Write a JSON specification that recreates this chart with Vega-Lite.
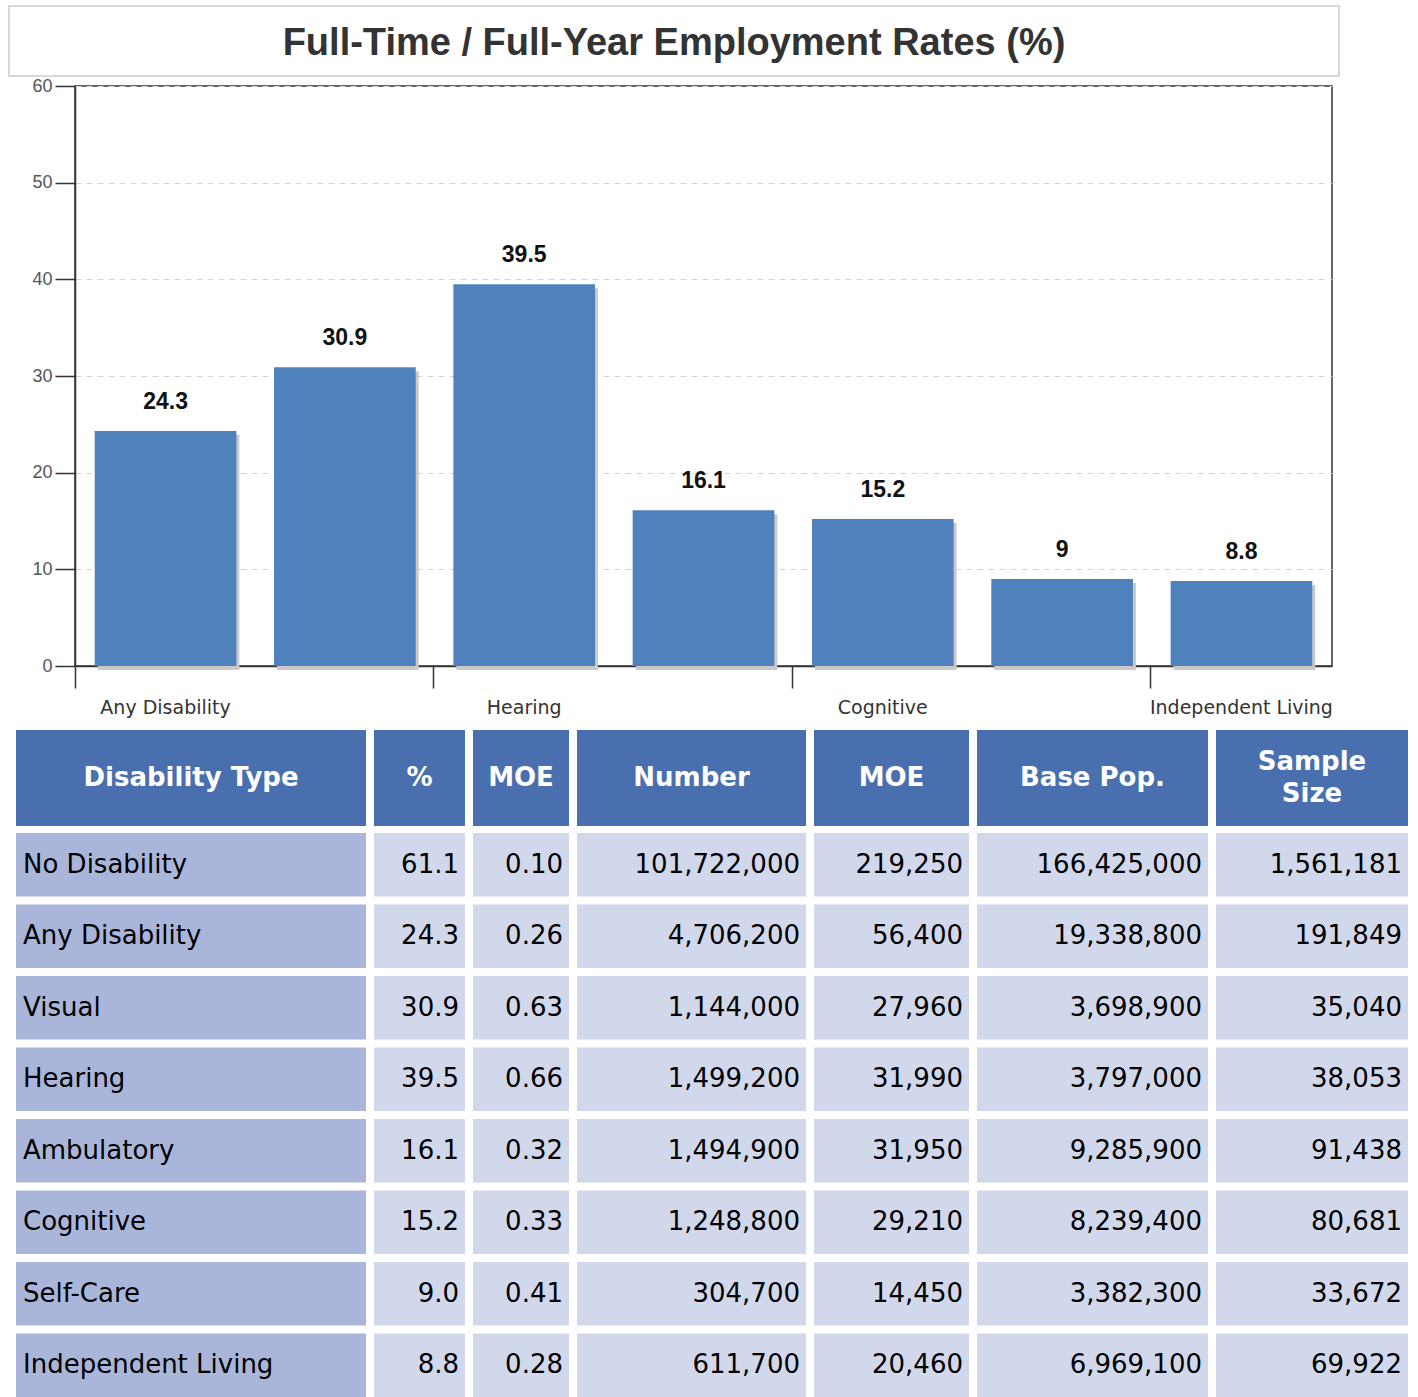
{
  "$schema": "https://vega.github.io/schema/vega-lite/v6.json",
  "padding": {"left": 8, "top": 5, "right": 0, "bottom": 0},
  "background": "white",
  "config": {"view": {"stroke": null}, "font": "DejaVu Sans"},
  "datasets": {
    "rows": [
      {"type": "No Disability", "pct": 61.1, "moe": 0.10, "num": 101722000, "nmoe": 219250, "base": 166425000, "sample": 1561181},
      {"type": "Any Disability", "pct": 24.3, "moe": 0.26, "num": 4706200, "nmoe": 56400, "base": 19338800, "sample": 191849},
      {"type": "Visual", "pct": 30.9, "moe": 0.63, "num": 1144000, "nmoe": 27960, "base": 3698900, "sample": 35040},
      {"type": "Hearing", "pct": 39.5, "moe": 0.66, "num": 1499200, "nmoe": 31990, "base": 3797000, "sample": 38053},
      {"type": "Ambulatory", "pct": 16.1, "moe": 0.32, "num": 1494900, "nmoe": 31950, "base": 9285900, "sample": 91438},
      {"type": "Cognitive", "pct": 15.2, "moe": 0.33, "num": 1248800, "nmoe": 29210, "base": 8239400, "sample": 80681},
      {"type": "Self-Care", "pct": 9.0, "moe": 0.41, "num": 304700, "nmoe": 14450, "base": 3382300, "sample": 33672},
      {"type": "Independent Living", "pct": 8.8, "moe": 0.28, "num": 611700, "nmoe": 20460, "base": 6969100, "sample": 69922}
    ]
  },
  "spacing": 12,
  "vconcat": [
    {
      "spacing": -1,
      "vconcat": [
        {
          "width": 1330, "height": 70,
          "view": {"stroke": "#cccccc", "strokeWidth": 1.5},
          "data": {"values": [{"t": "Full-Time / Full-Year Employment Rates (%)"}]},
          "mark": {"type": "text", "font": "Liberation Sans", "fontWeight": "bold", "fontSize": 38, "color": "#333333", "dy": 3},
          "encoding": {"text": {"field": "t"}}
        },
        {
          "spacing": 0,
          "hconcat": [
            {"width": 1, "height": 1, "data": {"values": []}, "mark": "point"},
            {
              "width": 1257, "height": 580,
              "data": {"name": "rows"},
              "transform": [{"filter": "datum.type !== 'No Disability'"}],
              "view": {"stroke": "#333333", "strokeWidth": 1.5},
              "encoding": {
                "x": {
                  "field": "type", "type": "nominal", "sort": null, "title": null,
                  "scale": {"paddingInner": 0.21, "paddingOuter": 0.11},
                  "axis": {
                    "values": ["Any Disability", "Hearing", "Cognitive", "Independent Living"],
                    "bandPosition": -0.139, "labelAngle": 0, "tickSize": 22, "tickColor": "#333333", "tickWidth": 1.5,
                    "domainColor": "#333333", "domainWidth": 1.5, "labelColor": "#333333", "labelFont": "DejaVu Sans",
                    "labelFontSize": 19, "labelPadding": 10, "labelOverlap": false, "labelLimit": 0
                  }
                },
                "y": {
                  "field": "pct", "type": "quantitative", "title": null,
                  "scale": {"domain": [0, 60], "nice": false},
                  "axis": {
                    "values": [0, 10, 20, 30, 40, 50, 60], "grid": true, "gridDash": [6, 5], "gridColor": "#d0d5de",
                    "domainColor": "#333333", "domainWidth": 1.5, "tickColor": "#333333", "tickWidth": 1.5, "tickSize": 20,
                    "labelFont": "Liberation Sans", "labelFontSize": 18, "labelColor": "#555555", "labelPadding": 3,
                    "minExtent": 64, "maxExtent": 64
                  }
                }
              },
              "layer": [
                {"mark": {"type": "bar", "color": "#c9c9c9", "xOffset": 3, "yOffset": 4}},
                {"mark": {"type": "bar", "color": "#4F81BD"}},
                {
                  "mark": {"type": "text", "baseline": "alphabetic", "dy": -22, "font": "Liberation Sans", "fontWeight": "bold", "fontSize": 23, "color": "#111111"},
                  "encoding": {"text": {"field": "pct", "type": "quantitative"}}
                }
              ]
            }
          ]
        }
      ]
    },
    {
      "spacing": 6,
      "hconcat": [
        {"width": 1, "height": 1, "data": {"values": []}, "mark": "point"},
        {
          "spacing": 8,
          "hconcat": [
            {
              "spacing": 7,
              "vconcat": [
                {"width": 350, "height": 96, "view": {"fill": "#4A6FAF", "stroke": null},
                 "data": {"values": [{"h": "Disability Type"}]},
                 "mark": {"type": "text", "color": "white", "font": "DejaVu Sans", "fontWeight": "bold", "fontSize": 26},
                 "encoding": {"text": {"field": "h"}}},
                {"width": 350, "height": 564, "data": {"name": "rows"},
                 "encoding": {"y": {"field": "type", "type": "nominal", "sort": null, "scale": {"paddingInner": 0.111, "paddingOuter": 0}, "axis": null},
                              "x": {"datum": 0, "type": "quantitative", "scale": {"domain": [0, 1]}, "axis": null}},
                 "layer": [
                   {"mark": {"type": "rect", "color": "#A9B6DA"}, "encoding": {"x2": {"datum": 1}}},
                   {"mark": {"type": "text", "align": "left", "dx": 7, "fontSize": 26, "font": "DejaVu Sans", "color": "#000000"},
                    "encoding": {"text": {"field": "type"}}}
                 ]}
              ]
            },
            {
              "spacing": 7,
              "vconcat": [
                {"width": 91, "height": 96, "view": {"fill": "#4A6FAF", "stroke": null},
                 "data": {"values": [{"h": "%"}]},
                 "mark": {"type": "text", "color": "white", "font": "DejaVu Sans", "fontWeight": "bold", "fontSize": 26},
                 "encoding": {"text": {"field": "h"}}},
                {"width": 91, "height": 564, "data": {"name": "rows"},
                 "encoding": {"y": {"field": "type", "type": "nominal", "sort": null, "scale": {"paddingInner": 0.111, "paddingOuter": 0}, "axis": null}},
                 "layer": [
                   {"mark": {"type": "rect", "color": "#D1D8EC"},
                    "encoding": {"x": {"datum": 0, "type": "quantitative", "scale": {"domain": [0, 1]}, "axis": null}, "x2": {"datum": 1}}},
                   {"mark": {"type": "text", "align": "right", "dx": -6, "fontSize": 26, "font": "DejaVu Sans", "color": "#000000"},
                    "encoding": {"x": {"datum": 1, "type": "quantitative"}, "text": {"field": "pct", "type": "quantitative", "format": ".1f"}}}
                 ]}
              ]
            },
            {
              "spacing": 7,
              "vconcat": [
                {"width": 96, "height": 96, "view": {"fill": "#4A6FAF", "stroke": null},
                 "data": {"values": [{"h": "MOE"}]},
                 "mark": {"type": "text", "color": "white", "font": "DejaVu Sans", "fontWeight": "bold", "fontSize": 26},
                 "encoding": {"text": {"field": "h"}}},
                {"width": 96, "height": 564, "data": {"name": "rows"},
                 "encoding": {"y": {"field": "type", "type": "nominal", "sort": null, "scale": {"paddingInner": 0.111, "paddingOuter": 0}, "axis": null}},
                 "layer": [
                   {"mark": {"type": "rect", "color": "#D1D8EC"},
                    "encoding": {"x": {"datum": 0, "type": "quantitative", "scale": {"domain": [0, 1]}, "axis": null}, "x2": {"datum": 1}}},
                   {"mark": {"type": "text", "align": "right", "dx": -6, "fontSize": 26, "font": "DejaVu Sans", "color": "#000000"},
                    "encoding": {"x": {"datum": 1, "type": "quantitative"}, "text": {"field": "moe", "type": "quantitative", "format": ".2f"}}}
                 ]}
              ]
            },
            {
              "spacing": 7,
              "vconcat": [
                {"width": 229, "height": 96, "view": {"fill": "#4A6FAF", "stroke": null},
                 "data": {"values": [{"h": "Number"}]},
                 "mark": {"type": "text", "color": "white", "font": "DejaVu Sans", "fontWeight": "bold", "fontSize": 26},
                 "encoding": {"text": {"field": "h"}}},
                {"width": 229, "height": 564, "data": {"name": "rows"},
                 "encoding": {"y": {"field": "type", "type": "nominal", "sort": null, "scale": {"paddingInner": 0.111, "paddingOuter": 0}, "axis": null}},
                 "layer": [
                   {"mark": {"type": "rect", "color": "#D1D8EC"},
                    "encoding": {"x": {"datum": 0, "type": "quantitative", "scale": {"domain": [0, 1]}, "axis": null}, "x2": {"datum": 1}}},
                   {"mark": {"type": "text", "align": "right", "dx": -6, "fontSize": 26, "font": "DejaVu Sans", "color": "#000000"},
                    "encoding": {"x": {"datum": 1, "type": "quantitative"}, "text": {"field": "num", "type": "quantitative", "format": ","}}}
                 ]}
              ]
            },
            {
              "spacing": 7,
              "vconcat": [
                {"width": 155, "height": 96, "view": {"fill": "#4A6FAF", "stroke": null},
                 "data": {"values": [{"h": "MOE"}]},
                 "mark": {"type": "text", "color": "white", "font": "DejaVu Sans", "fontWeight": "bold", "fontSize": 26},
                 "encoding": {"text": {"field": "h"}}},
                {"width": 155, "height": 564, "data": {"name": "rows"},
                 "encoding": {"y": {"field": "type", "type": "nominal", "sort": null, "scale": {"paddingInner": 0.111, "paddingOuter": 0}, "axis": null}},
                 "layer": [
                   {"mark": {"type": "rect", "color": "#D1D8EC"},
                    "encoding": {"x": {"datum": 0, "type": "quantitative", "scale": {"domain": [0, 1]}, "axis": null}, "x2": {"datum": 1}}},
                   {"mark": {"type": "text", "align": "right", "dx": -6, "fontSize": 26, "font": "DejaVu Sans", "color": "#000000"},
                    "encoding": {"x": {"datum": 1, "type": "quantitative"}, "text": {"field": "nmoe", "type": "quantitative", "format": ","}}}
                 ]}
              ]
            },
            {
              "spacing": 7,
              "vconcat": [
                {"width": 231, "height": 96, "view": {"fill": "#4A6FAF", "stroke": null},
                 "data": {"values": [{"h": "Base Pop."}]},
                 "mark": {"type": "text", "color": "white", "font": "DejaVu Sans", "fontWeight": "bold", "fontSize": 26},
                 "encoding": {"text": {"field": "h"}}},
                {"width": 231, "height": 564, "data": {"name": "rows"},
                 "encoding": {"y": {"field": "type", "type": "nominal", "sort": null, "scale": {"paddingInner": 0.111, "paddingOuter": 0}, "axis": null}},
                 "layer": [
                   {"mark": {"type": "rect", "color": "#D1D8EC"},
                    "encoding": {"x": {"datum": 0, "type": "quantitative", "scale": {"domain": [0, 1]}, "axis": null}, "x2": {"datum": 1}}},
                   {"mark": {"type": "text", "align": "right", "dx": -6, "fontSize": 26, "font": "DejaVu Sans", "color": "#000000"},
                    "encoding": {"x": {"datum": 1, "type": "quantitative"}, "text": {"field": "base", "type": "quantitative", "format": ","}}}
                 ]}
              ]
            },
            {
              "spacing": 7,
              "vconcat": [
                {"width": 192, "height": 96, "view": {"fill": "#4A6FAF", "stroke": null},
                 "data": {"values": [{"h": "Sample|Size"}]},
                 "mark": {"type": "text", "color": "white", "font": "DejaVu Sans", "fontWeight": "bold", "fontSize": 26, "lineBreak": "|", "lineHeight": 32, "dy": -16},
                 "encoding": {"text": {"field": "h"}}},
                {"width": 192, "height": 564, "data": {"name": "rows"},
                 "encoding": {"y": {"field": "type", "type": "nominal", "sort": null, "scale": {"paddingInner": 0.111, "paddingOuter": 0}, "axis": null}},
                 "layer": [
                   {"mark": {"type": "rect", "color": "#D1D8EC"},
                    "encoding": {"x": {"datum": 0, "type": "quantitative", "scale": {"domain": [0, 1]}, "axis": null}, "x2": {"datum": 1}}},
                   {"mark": {"type": "text", "align": "right", "dx": -6, "fontSize": 26, "font": "DejaVu Sans", "color": "#000000"},
                    "encoding": {"x": {"datum": 1, "type": "quantitative"}, "text": {"field": "sample", "type": "quantitative", "format": ","}}}
                 ]}
              ]
            }
          ]
        }
      ]
    }
  ]
}
